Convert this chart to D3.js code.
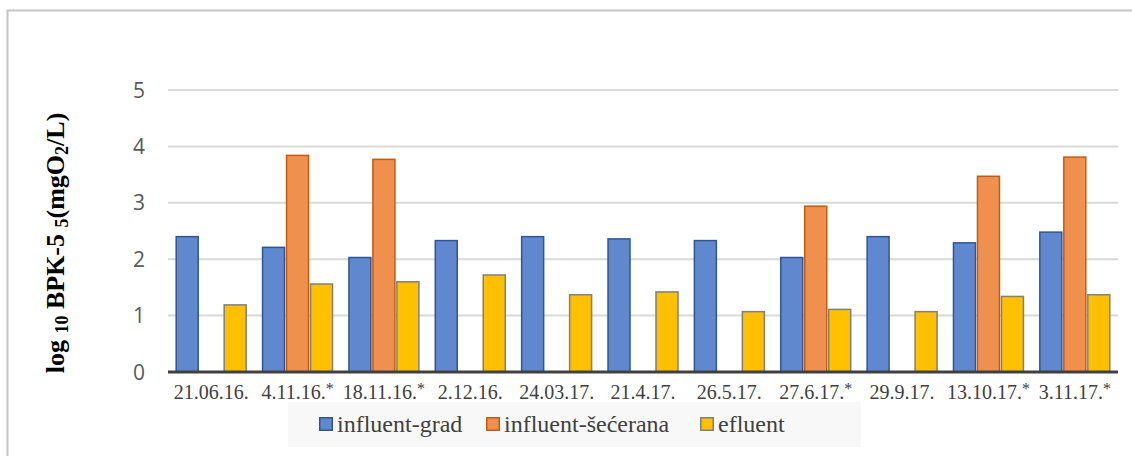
<!DOCTYPE html>
<html>
<head>
<meta charset="utf-8">
<script src="https://cdn.jsdelivr.net/npm/d3@7"></script>
<style>
	body { margin: 0; background: #fff; }
	svg { display: block; }
</style>
</head>
<body>
<svg id="chart" width="1132" height="456"></svg>
<script>
(function(){

var dates = ["21.06.16.", "4.11.16.", "18.11.16.", "2.12.16.", "24.03.17.", "21.4.17.",
	"26.5.17.", "27.6.17.", "29.9.17.", "13.10.17.", "3.11.17."];
// which date labels carry an asterisk
var starred = [false, true, true, false, false, false, false, true, false, true, true];

var seriesNames = ["influent-grad", "influent-šećerana", "efluent"];
var influentGrad = [2.40, 2.21, 2.03, 2.33, 2.40, 2.36, 2.33, 2.03, 2.40, 2.29, 2.48];
var influentSecerana = [null, 3.84, 3.77, null, null, null, null, 2.94, null, 3.47, 3.81];
var efluent = [1.19, 1.56, 1.60, 1.72, 1.37, 1.42, 1.07, 1.11, 1.07, 1.34, 1.37];
var yTicks = [0, 1, 2, 3, 4, 5];

var FILL = ["#5f88cf", "#f0904f", "#ffc000"];
var STROKE = ["#2f5597", "#c55a11", "#7f7f7f"];

var svg = d3.select("#chart");

var plot = { left: 168, right: 1118, top: 90, bottom: 372 };

// outer frame
svg.append("rect")
	.attr("x", 7.5).attr("y", 10.5)
	.attr("width", 1130).attr("height", 450)
	.attr("fill", "none")
	.attr("stroke", "#c6c6c6")
	.attr("stroke-width", 2);

var x0 = d3.scaleBand()
	.domain(dates)
	.range([plot.left, plot.right])
	.paddingInner(0.1667)
	.paddingOuter(0.0833);

var x1 = d3.scaleBand()
	.domain(d3.range(3))
	.range([0, x0.bandwidth()]);

var y = d3.scaleLinear()
	.domain([0, 5])
	.range([plot.bottom, plot.top]);

// grid
svg.append("g").selectAll("line")
	.data(yTicks.filter(function(t){ return t > 0; }))
	.enter().append("line")
	.attr("x1", plot.left).attr("x2", plot.right)
	.attr("y1", function(t){ return y(t); })
	.attr("y2", function(t){ return y(t); })
	.attr("stroke", "#d9d9d9")
	.attr("stroke-width", 2);

svg.append("g").selectAll("text")
	.data(yTicks)
	.enter().append("text")
	.attr("x", 145)
	.attr("y", function(t){ return y(t) + 7.5; })
	.attr("text-anchor", "end")
	.attr("font-family", "'Open Sans', sans-serif")
	.attr("font-size", 21)
	.attr("fill", "#595959")
	.text(function(t){ return t; });

var rows = dates.map(function(d, i) {
	return { date: d, values: [influentGrad[i], influentSecerana[i], efluent[i]] };
});

var groups = svg.append("g").selectAll("g")
	.data(rows)
	.enter().append("g")
	.attr("transform", function(r){ return "translate(" + x0(r.date) + ",0)"; });

groups.selectAll("rect")
	.data(function(r){
		return r.values.map(function(v, k){ return { k: k, v: v }; })
			.filter(function(o){ return o.v !== null; });
	})
	.enter().append("rect")
	.attr("x", function(o){ return x1(o.k) + 1; })
	.attr("width", x1.bandwidth() - 2)
	.attr("y", function(o){ return y(o.v); })
	.attr("height", function(o){ return y(0) - y(o.v); })
	.attr("fill", function(o){ return FILL[o.k]; })
	.attr("stroke", function(o){ return STROKE[o.k]; })
	.attr("stroke-width", 1.5);

// baseline
svg.append("line")
	.attr("x1", plot.left).attr("x2", plot.right)
	.attr("y1", y(0)).attr("y2", y(0))
	.attr("stroke", "#404040")
	.attr("stroke-width", 3);

// category labels
var xl = svg.append("g").selectAll("text")
	.data(dates)
	.enter().append("text")
	.attr("x", function(d){ return x0(d) + x0.bandwidth() / 2; })
	.attr("y", 399)
	.attr("text-anchor", "middle")
	.attr("font-family", "'Liberation Serif', 'Times New Roman', serif")
	.attr("font-size", 20)
	.attr("fill", "#404040");
xl.append("tspan").text(function(d){ return d; });
xl.filter(function(d, i){ return starred[i]; })
	.append("tspan")
	.attr("dy", -5)
	.attr("font-size", 16)
	.text("*");

// y axis title
var yt = svg.append("text")
	.attr("transform", "translate(64," + ((plot.top + plot.bottom) / 2 + 12) + ") rotate(-90)")
	.attr("text-anchor", "middle")
	.attr("font-family", "'Liberation Serif', 'Times New Roman', serif")
	.attr("font-weight", "bold")
	.attr("font-size", 26)
	.attr("fill", "#000");
yt.append("tspan").text("log ");
yt.append("tspan").attr("font-size", 18).attr("dy", 4).text("10");
yt.append("tspan").attr("dy", -4).text(" BPK-5 ");
yt.append("tspan").attr("font-size", 18).attr("dy", 4).text("5");
yt.append("tspan").attr("dy", -4).text("(mgO");
yt.append("tspan").attr("font-size", 18).attr("dy", 4).text("2");
yt.append("tspan").attr("dy", -4).text("/L)");

// legend
var legend = svg.append("g");
legend.append("rect")
	.attr("x", 288).attr("y", 402)
	.attr("width", 573).attr("height", 45)
	.attr("fill", "#f8f8f8");

var legendX = [319, 486, 700];
var li = legend.selectAll("g")
	.data(seriesNames)
	.enter().append("g")
	.attr("transform", function(s, k){ return "translate(" + legendX[k] + ",0)"; });
li.append("rect")
	.attr("x", 0.75).attr("y", 417.75)
	.attr("width", 12.5).attr("height", 12.5)
	.attr("fill", function(s, k){ return FILL[k]; })
	.attr("stroke", function(s, k){ return STROKE[k]; })
	.attr("stroke-width", 1.5);
li.append("text")
	.attr("x", 18).attr("y", 432)
	.attr("font-family", "'Liberation Serif', 'Times New Roman', serif")
	.attr("font-size", 24)
	.attr("fill", "#404040")
	.text(function(s){ return s; });

})();
</script>
</body>
</html>
